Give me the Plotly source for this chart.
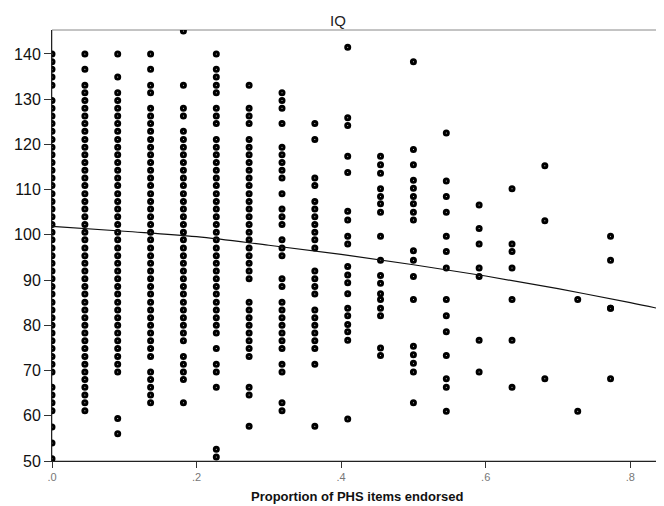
import plotly.graph_objects as go

# Proportion of PHS items endorsed (column positions, k/22)
prop_levels = [0.0, 0.0455, 0.0909, 0.1364, 0.1818, 0.2273, 0.2727, 0.3182, 0.3636,
               0.4091, 0.4545, 0.5, 0.5455, 0.5909, 0.6364, 0.6818, 0.7273, 0.7727]

# IQ values read for each column
iq_000 = [140.0, 138.3, 136.6, 134.9, 133.1, 129.7, 128.0, 126.3, 124.6, 122.9, 121.1, 119.4,
          117.7, 116.0, 114.3, 112.6, 110.9, 109.1, 107.4, 105.7, 104.0, 102.3, 100.6, 98.9,
          97.1, 95.4, 93.7, 92.0, 90.3, 88.6, 86.9, 85.1, 83.4, 81.7, 80.0, 78.3, 76.6, 74.9,
          73.1, 71.4, 69.7, 66.3, 64.6, 62.9, 61.1, 57.5, 54.0, 50.5]
iq_045 = [140.0, 136.6, 133.1, 131.4, 129.7, 128.0, 126.3, 124.6, 122.9, 121.1, 119.4, 117.7,
          116.0, 114.3, 112.6, 110.9, 109.1, 107.4, 105.7, 104.0, 102.3, 100.6, 98.9, 97.1,
          95.4, 93.7, 92.0, 90.3, 88.6, 86.9, 85.1, 83.4, 81.7, 80.0, 78.3, 76.6, 74.9, 73.1,
          71.4, 69.7, 68.0, 66.3, 64.6, 62.9, 61.1]
iq_091 = [140.0, 134.9, 131.4, 129.7, 128.0, 126.3, 124.6, 122.9, 121.1, 119.4, 117.7, 116.0,
          114.3, 112.6, 110.9, 109.1, 107.4, 105.7, 104.0, 102.3, 100.6, 98.9, 97.1, 95.4,
          93.7, 92.0, 90.3, 88.6, 86.9, 85.1, 83.4, 81.7, 80.0, 78.3, 76.6, 74.9, 73.1, 71.4,
          69.7, 59.4, 56.0]
iq_136 = [140.0, 136.6, 133.1, 131.4, 128.0, 126.3, 124.6, 122.9, 121.1, 119.4, 117.7, 116.0,
          114.3, 112.6, 110.9, 109.1, 107.4, 105.7, 104.0, 102.3, 100.6, 98.9, 97.1, 95.4,
          93.7, 92.0, 90.3, 88.6, 86.9, 85.1, 83.4, 81.7, 80.0, 78.3, 76.6, 74.9, 73.1,
          69.7, 68.0, 66.3, 64.6, 62.9]
iq_182 = [145.1, 133.1, 128.0, 126.3, 122.9, 121.1, 119.4, 117.7, 116.0, 114.3, 112.6, 110.9,
          109.1, 107.4, 105.7, 104.0, 102.3, 100.6, 98.9, 97.1, 95.4, 93.7, 92.0, 90.3, 88.6,
          86.9, 85.1, 83.4, 81.7, 80.0, 78.3, 76.6, 73.1, 71.4, 69.7, 68.0, 62.9]
iq_227 = [140.0, 136.6, 134.9, 133.1, 131.4, 128.0, 126.3, 124.6, 121.1, 119.4, 117.7, 116.0,
          114.3, 112.6, 110.9, 109.1, 107.4, 105.7, 104.0, 102.3, 100.6, 98.9, 97.1, 95.4,
          93.7, 92.0, 90.3, 88.6, 86.9, 85.1, 83.4, 81.7, 80.0, 78.3, 74.9, 71.4, 69.7, 66.3,
          52.6, 50.9]
iq_273 = [133.1, 128.0, 126.3, 124.6, 121.1, 119.4, 117.7, 116.0, 114.3, 112.6, 110.9, 109.1,
          107.4, 105.7, 104.0, 102.3, 100.6, 98.9, 97.1, 95.4, 93.7, 92.0, 90.3, 85.1, 83.4,
          81.7, 80.0, 78.3, 76.6, 74.9, 73.1, 66.3, 64.6, 57.7]
iq_318 = [131.4, 129.7, 128.0, 124.6, 119.4, 117.7, 116.0, 114.3, 112.6, 109.1, 105.7, 104.0,
          102.3, 98.9, 97.1, 95.4, 90.3, 88.6, 85.1, 83.4, 81.7, 80.0, 78.3, 76.6, 74.9, 71.4,
          69.7, 62.9, 61.1]
iq_364 = [124.6, 121.1, 112.6, 110.9, 107.4, 105.7, 104.0, 102.3, 100.6, 98.9, 97.1, 92.0,
          90.3, 88.6, 86.9, 83.4, 81.7, 80.0, 78.3, 76.6, 74.9, 71.4, 57.7]
iq_409 = [141.5, 125.9, 124.2, 117.4, 113.8, 105.2, 103.3, 99.7, 98.0, 93.0, 91.1, 89.4, 87.0,
          83.8, 82.1, 80.2, 78.6, 76.7, 59.3]
iq_455 = [117.4, 115.5, 113.6, 110.2, 108.5, 106.9, 105.0, 99.7, 94.4, 91.0, 89.3, 87.0, 85.7,
          83.8, 82.1, 75.0, 73.3]
iq_500 = [138.3, 118.9, 115.5, 112.1, 110.3, 108.5, 106.9, 105.0, 103.3, 96.5, 94.4, 90.8,
          85.7, 75.4, 73.5, 71.6, 69.7, 62.9]
iq_545 = [122.5, 111.9, 108.5, 105.0, 99.7, 96.3, 92.7, 85.7, 82.1, 78.6, 73.3, 68.2, 66.3, 61.0]
iq_591 = [106.6, 101.4, 98.0, 92.7, 90.8, 76.7, 69.7]
iq_636 = [110.2, 98.0, 96.3, 92.7, 85.7, 76.7, 66.3]
iq_682 = [115.3, 103.1, 68.2]
iq_727 = [85.7, 61.0]
iq_773 = [99.7, 94.4, 83.8, 83.8, 68.2]

iq_columns = [iq_000, iq_045, iq_091, iq_136, iq_182, iq_227, iq_273, iq_318, iq_364,
              iq_409, iq_455, iq_500, iq_545, iq_591, iq_636, iq_682, iq_727, iq_773]

# Fitted (quadratic) line
fit_x = [0.0, 0.1, 0.2, 0.3, 0.4, 0.5, 0.6, 0.7, 0.8, 0.8425]
fit_y = [101.9, 100.8, 99.6, 97.7, 95.7, 93.4, 90.9, 88.1, 85.0, 83.6]

x_ticks = [0.0, 0.2, 0.4, 0.6, 0.8]
x_tick_labels = [".0", ".2", ".4", ".6", ".8"]
y_ticks = [50, 60, 70, 80, 90, 100, 110, 120, 130, 140]

xs, ys = [], []
for p, col in zip(prop_levels, iq_columns):
    xs.extend([p] * len(col))
    ys.extend(col)

FONT = "Liberation Sans, Arial, sans-serif"

fig = go.Figure()
fig.add_trace(go.Scatter(
    x=xs, y=ys, mode="markers",
    marker=dict(symbol="circle-open", size=4, color="#000",
                line=dict(width=3, color="#000")),
    showlegend=False, hoverinfo="x+y"))
fig.add_trace(go.Scatter(
    x=fit_x, y=fit_y, mode="lines",
    line=dict(color="#111", width=1.2, shape="spline"),
    showlegend=False, hoverinfo="skip"))

# The page body has an 8px margin, so the figure is sized to fit inside the window
fig.update_layout(
    width=656, height=498,
    margin=dict(l=44, r=3, t=22, b=45),
    paper_bgcolor="white", plot_bgcolor="white",
    font=dict(family=FONT, color="#222"),
    xaxis=dict(range=[0, 0.8425], tickvals=x_ticks, ticktext=x_tick_labels,
               ticks="outside", ticklen=6, tickcolor="#333", tickwidth=1,
               tickfont=dict(size=11, color="#777", family=FONT),
               showline=True, linecolor="#222", linewidth=1,
               showgrid=False, zeroline=False),
    yaxis=dict(range=[50, 145.3], tickvals=y_ticks,
               ticks="outside", ticklen=7, tickcolor="#333", tickwidth=1,
               tickfont=dict(size=16, color="#111", family=FONT),
               showline=True, linecolor="#222", linewidth=1,
               showgrid=False, zeroline=False),
    shapes=[dict(type="rect", xref="paper", yref="paper", x0=0, x1=1, y0=0, y1=1,
                 line=dict(color="#888", width=1), layer="below")],
    annotations=[
        dict(text="IQ", xref="paper", yref="paper", x=0.4696, y=1.023,
             xanchor="center", yanchor="middle", showarrow=False,
             font=dict(size=15, color="#222", family=FONT)),
        dict(text="<b>Proportion of PHS items endorsed</b>", xref="paper", yref="paper",
             x=0.5, y=-0.083, xanchor="center", yanchor="middle", showarrow=False,
             font=dict(size=13, color="#111", family=FONT)),
    ],
)

fig.write_html("out.html")
